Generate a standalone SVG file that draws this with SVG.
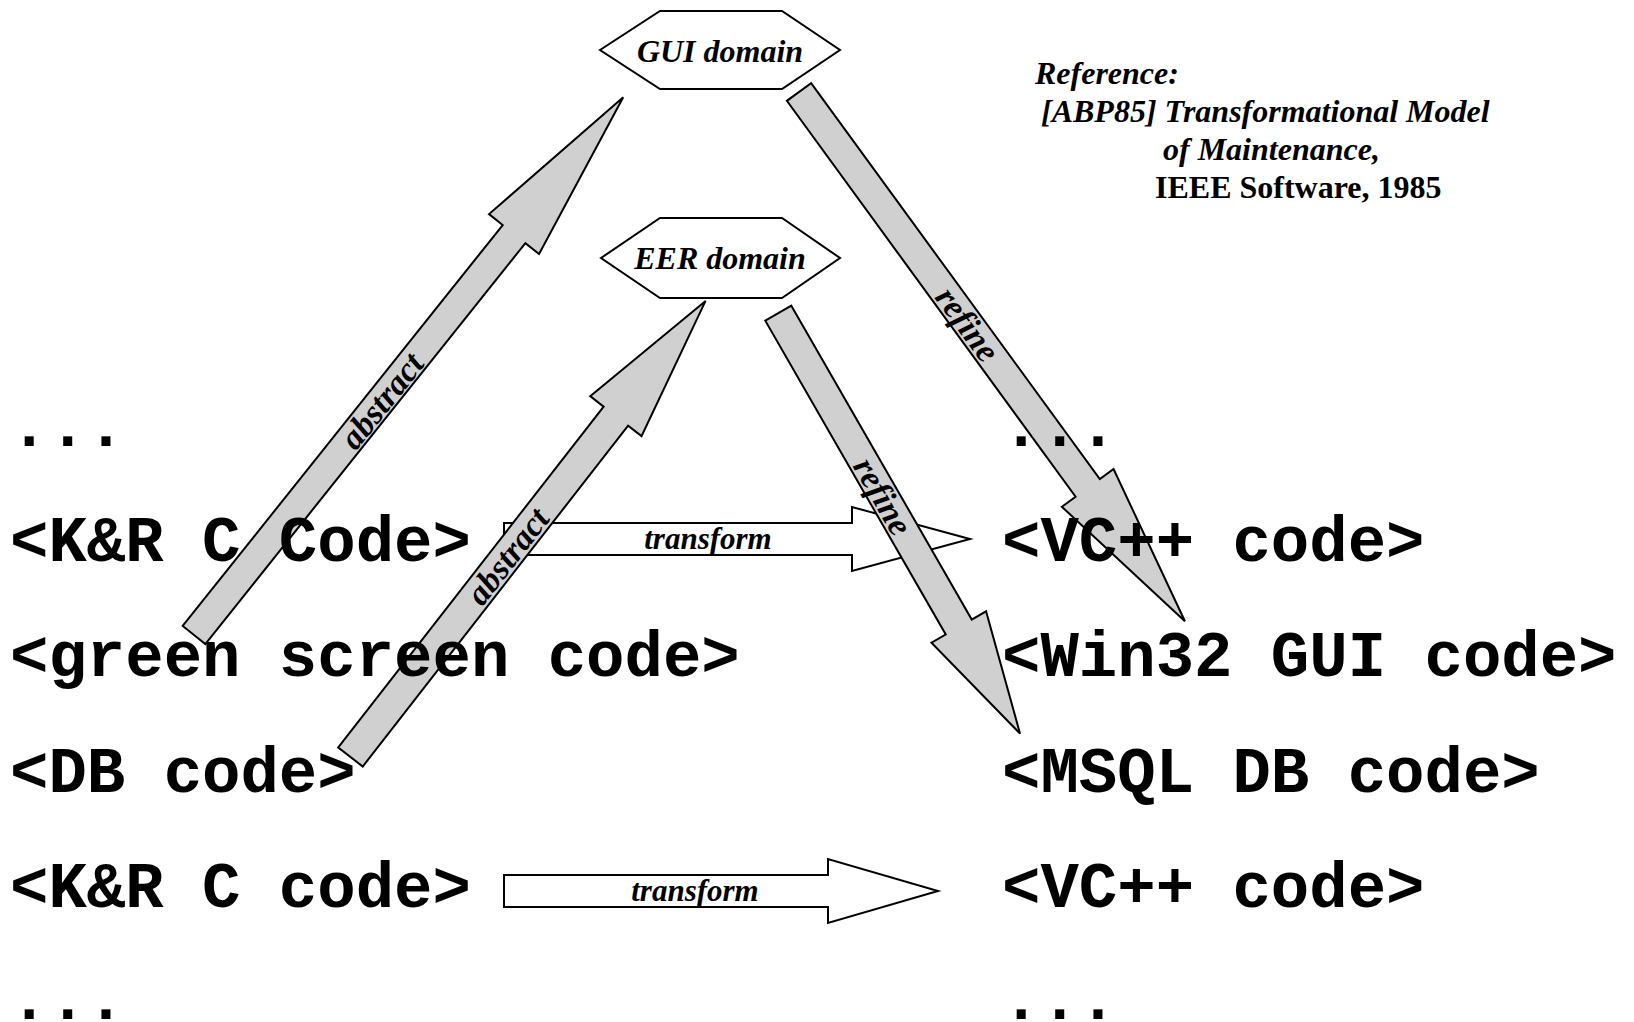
<svg xmlns="http://www.w3.org/2000/svg" width="1634" height="1022" viewBox="0 0 1634 1022">
<style>
.mono{font-family:"Courier New","Liberation Mono",monospace;font-weight:bold;font-size:64px;fill:#000}
.lbl{font-family:"Liberation Serif","Times New Roman",serif;font-style:italic;font-weight:bold;fill:#000}
.ref{font-family:"Liberation Serif","Times New Roman",serif;font-weight:bold;font-size:32px;fill:#000}
.garrow{fill:#d0d0d0;stroke:#000;stroke-width:2;stroke-linejoin:miter}
.warrow{fill:#fff;stroke:#000;stroke-width:2;stroke-linejoin:miter}
.hex{fill:#fff;stroke:#000;stroke-width:2}
</style>
<rect width="1634" height="1022" fill="#fff"/>
<g id="connectors">
  <g id="transform-upper">
    <polygon class="warrow" points="504,523 852,523 852,507 970,539 852,571 852,555 504,555"/>
    <text class="lbl" x="708" y="549" font-size="31" text-anchor="middle">transform</text>
  </g>
  <g id="transform-lower">
    <polygon class="warrow" points="504,875 828,875 828,859 938,891 828,923 828,907 504,907"/>
    <text class="lbl" x="695" y="901" font-size="31" text-anchor="middle">transform</text>
  </g>
  <g id="abstract-gui" transform="translate(194,635) rotate(-51.4)">
    <polygon class="garrow" points="0,-14.5 513,-14.5 513,-32 688,0 513,32 513,14.5 0,14.5"/>
    <text class="lbl" x="300" y="12" font-size="34" text-anchor="middle">abstract</text>
  </g>
  <g id="abstract-eer" transform="translate(350.5,757) rotate(-52.1)">
    <polygon class="garrow" points="0,-15.5 432,-15.5 432,-32.5 578,0 432,32.5 432,15.5 0,15.5"/>
    <text class="lbl" x="255" y="12" font-size="34" text-anchor="middle">abstract</text>
  </g>
  <g id="refine-gui" transform="translate(799,92) rotate(53.9)">
    <polygon class="garrow" points="0,-15 490,-15 490,-32 655,0 490,32 490,15 0,15"/>
    <text class="lbl" x="287" y="12" font-size="34" text-anchor="middle">refine</text>
  </g>
  <g id="refine-eer" transform="translate(778.3,313.2) rotate(60.1)">
    <polygon class="garrow" points="0,-15 362,-15 362,-31.5 485,0 362,31.5 362,15 0,15"/>
    <text class="lbl" x="211" y="12" font-size="34" text-anchor="middle">refine</text>
  </g>
</g>
<g id="gui-domain">
  <polygon class="hex" points="600,50 660,11 782,11 840,50 782,89 660,89"/>
  <text class="lbl" x="720" y="62" font-size="32" text-anchor="middle">GUI domain</text>
</g>
<g id="eer-domain">
  <polygon class="hex" points="601,258 660,218 782,218 840,258 782,298 660,298"/>
  <text class="lbl" x="720" y="269" font-size="32" text-anchor="middle">EER domain</text>
</g>
<g id="left-column">
  <text class="mono" x="10" y="446">...</text>
  <text class="mono" x="10" y="561">&lt;K&amp;R C Code&gt;</text>
  <text class="mono" x="10" y="676">&lt;green screen code&gt;</text>
  <text class="mono" x="10" y="792">&lt;DB code&gt;</text>
  <text class="mono" x="10" y="907">&lt;K&amp;R C code&gt;</text>
  <text class="mono" x="10" y="1019">...</text>
</g>
<g id="right-column">
  <text class="mono" x="1002" y="446">...</text>
  <text class="mono" x="1002" y="561">&lt;VC++ code&gt;</text>
  <text class="mono" x="1002" y="676">&lt;Win32 GUI code&gt;</text>
  <text class="mono" x="1002" y="792">&lt;MSQL DB code&gt;</text>
  <text class="mono" x="1002" y="907">&lt;VC++ code&gt;</text>
  <text class="mono" x="1002" y="1019">...</text>
</g>
<g id="reference">
  <text class="ref" x="1035" y="84" font-style="italic">Reference:</text>
  <text class="ref" x="1041" y="122" font-style="italic">[ABP85] Transformational Model</text>
  <text class="ref" x="1163" y="160" font-style="italic">of Maintenance,</text>
  <text class="ref" x="1155" y="198">IEEE Software, 1985</text>
</g>
</svg>
